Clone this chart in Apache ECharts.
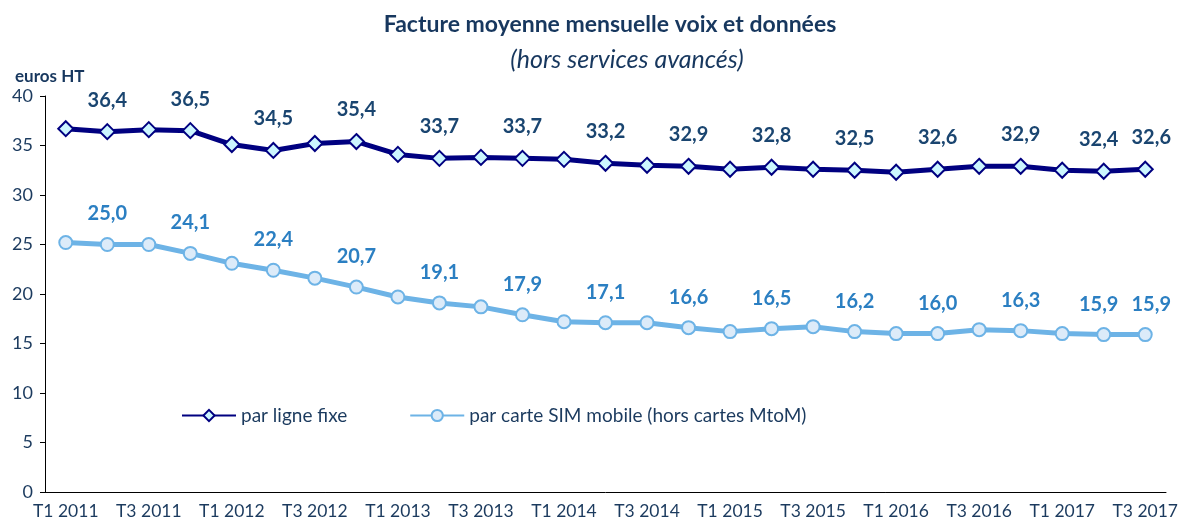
<!DOCTYPE html>
<html lang="fr">
<head>
    <meta charset="UTF-8">
    <title>Facture moyenne mensuelle voix et données</title>
    <script src="https://cdn.jsdelivr.net/npm/echarts@6.0.0/dist/echarts.min.js"></script>
    <style>
        * { margin: 0; padding: 0; }
        body { background: #fff; }
        #chart { width: 1183px; height: 526px; }
    </style>
</head>
<body>
    <div id="chart"></div>
    <script>
        // trimestres T1 2011 -> T3 2017
        const quarters = [
            'T1 2011', 'T2 2011', 'T3 2011', 'T4 2011',
            'T1 2012', 'T2 2012', 'T3 2012', 'T4 2012',
            'T1 2013', 'T2 2013', 'T3 2013', 'T4 2013',
            'T1 2014', 'T2 2014', 'T3 2014', 'T4 2014',
            'T1 2015', 'T2 2015', 'T3 2015', 'T4 2015',
            'T1 2016', 'T2 2016', 'T3 2016', 'T4 2016',
            'T1 2017', 'T2 2017', 'T3 2017'
        ];

        const ligneFixe = [36.7, 36.4, 36.6, 36.5, 35.1, 34.5, 35.2, 35.4, 34.1, 33.7, 33.8, 33.7, 33.6, 33.2,
            33.0, 32.9, 32.6, 32.8, 32.6, 32.5, 32.3, 32.6, 32.9, 32.9, 32.5, 32.4, 32.6];

        const carteSim = [25.2, 25.0, 25.0, 24.1, 23.1, 22.4, 21.6, 20.7, 19.7, 19.1, 18.7, 17.9, 17.2, 17.1,
            17.1, 16.6, 16.2, 16.5, 16.7, 16.2, 16.0, 16.0, 16.4, 16.3, 16.0, 15.9, 15.9];

        // points qui portent une étiquette de valeur
        const labelled = [1, 3, 5, 7, 9, 11, 13, 15, 17, 19, 21, 23, 25, 26];

        const textColor = '#1b3a5e';
        const font = 'Lato, "Liberation Sans", sans-serif';

        // les deux dernières étiquettes sont écartées pour ne pas se chevaucher
        function labelShift(i) {
            if (i === 25) return [-5, 0];
            if (i === 26) return [6, 0];
            return [0, 0];
        }

        function withLabels(values, color) {
            return values.map((v, i) => ({
                value: v,
                label: {
                    show: labelled.includes(i),
                    position: 'top',
                    distance: 13,
                    offset: labelShift(i),
                    color: color,
                    fontSize: 20,
                    fontWeight: 'bold',
                    fontFamily: font,
                    formatter: p => p.value.toFixed(1).replace('.', ',')
                }
            }));
        }

        const chart = echarts.init(document.getElementById('chart'));
        chart.setOption({
            animation: false,
            textStyle: { fontFamily: font },
            title: [{
                text: 'Facture moyenne mensuelle voix et données',
                left: 605, top: 8, textAlign: 'center',
                textStyle: { fontSize: 23, fontWeight: 'bold', color: '#17375e', fontFamily: font }
            }, {
                text: '(hors services avancés)',
                left: 622, top: 42, textAlign: 'center',
                textStyle: { fontSize: 25, fontWeight: 'normal', fontStyle: 'italic', color: '#17375e', fontFamily: font }
            }, {
                text: 'euros HT',
                left: 10, top: 63,
                textStyle: { fontSize: 17, fontWeight: 'bold', color: '#17375e', fontFamily: font }
            }],
            legend: {
                left: 176, top: 401,
                itemWidth: 54, itemHeight: 14, itemGap: 62,
                textStyle: { fontSize: 19, color: textColor, fontFamily: font },
                data: ['par ligne fixe', 'par carte SIM mobile (hors cartes MtoM)']
            },
            grid: { left: 45, right: 17, top: 96, bottom: 34 },
            xAxis: {
                type: 'category',
                data: quarters,
                boundaryGap: true,
                axisLine: { lineStyle: { color: '#000', width: 1 } },
                axisTick: { interval: 0, length: 6, lineStyle: { color: '#000' } },
                axisLabel: { interval: 1, color: textColor, fontSize: 17.5, margin: 10 }
            },
            yAxis: {
                type: 'value',
                min: 0, max: 40, interval: 5,
                axisLine: { show: true, lineStyle: { color: '#000', width: 1 } },
                axisTick: { show: true, length: 5, lineStyle: { color: '#000' } },
                splitLine: { show: false },
                axisLabel: { color: textColor, fontSize: 18, margin: 12 }
            },
            series: [{
                name: 'par ligne fixe',
                type: 'line',
                data: withLabels(ligneFixe, '#1a4570'),
                symbol: 'diamond',
                symbolSize: 15,
                lineStyle: { color: '#000080', width: 5 },
                itemStyle: { color: '#ccf6ff', borderColor: '#000080', borderWidth: 2 }
            }, {
                name: 'par carte SIM mobile (hors cartes MtoM)',
                type: 'line',
                data: withLabels(carteSim, '#2b7fc2'),
                symbol: 'circle',
                symbolSize: 13,
                lineStyle: { color: '#6db3e6', width: 5 },
                itemStyle: { color: '#dcebf9', borderColor: '#6db3e6', borderWidth: 2 }
            }]
        });
    </script>
</body>
</html>
